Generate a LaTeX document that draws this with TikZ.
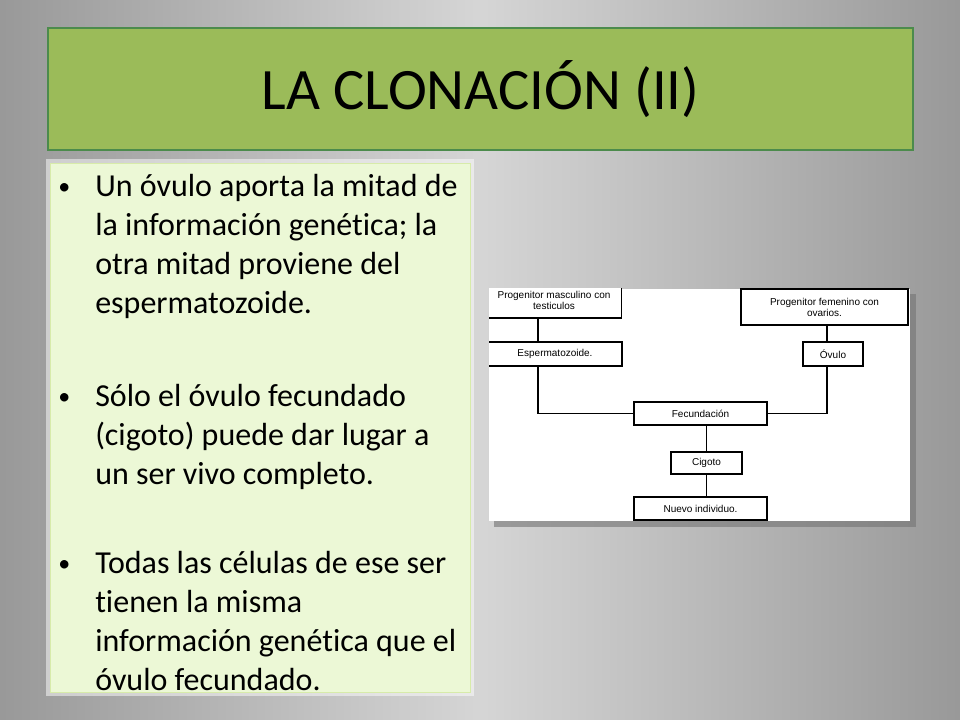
\documentclass[tikz,border=0pt]{standalone}
\usepackage{fontspec}
\setmainfont{Carlito}[Ligatures=NoCommon]
\newfontfamily\arialf{Liberation Sans}
\begin{document}
\begin{tikzpicture}[x=0.75pt,y=-0.75pt,
  bx/.style={draw=black,line width=1pt,fill=white,inner sep=0pt,font=\arialf\fontsize{7.5}{8.3}\selectfont,align=center},
  ln/.style={line width=1pt},
  bt/.style={anchor=base west,inner sep=0pt,font=\fontsize{24}{29}\selectfont}]
\useasboundingbox (0,0) rectangle (960,720);
\shade[left color=black!60,right color=black!60,middle color=black!12] (0,0) rectangle (960,720);
\fill[black!20,opacity=0.5] (0,0) rectangle (960,720);
% title
\node[draw=green!35!black!70,line width=1.2pt,fill={rgb,255:red,155;green,187;blue,89},minimum width=865*0.75pt,minimum height=122*0.75pt,inner sep=0pt,
  font=\fontsize{44}{48}\selectfont] (title) at (480.5,89) {LA CLONACIÓN (II)};
% text box
\fill[white,opacity=0.5] (46,159) rectangle (474,696);
\node[draw={rgb,255:red,215;green,235;blue,170},fill={rgb,255:red,236;green,248;blue,214},minimum width=420*0.75pt,minimum height=529*0.75pt,inner sep=0pt] (tb) at (260,428) {};
\foreach \y in {197,406,573}{\node[anchor=base west,inner sep=0pt,font=\fontsize{18}{20}\selectfont] at (58,\y-2) {•};}
\node[bt] at (95,197) {Un óvulo aporta la mitad de};
\node[bt] at (95,236) {la información genética; la};
\node[bt] at (95,275) {otra mitad proviene del};
\node[bt] at (95,314) {espermatozoide.};
\node[bt] at (95,406) {Sólo el óvulo fecundado};
\node[bt] at (95,445) {(cigoto) puede dar lugar a};
\node[bt] at (95,484) {un ser vivo completo.};
\node[bt] at (95,573) {Todas las células de ese ser};
\node[bt] at (95,612) {tienen la misma};
\node[bt] at (95,651) {información genética que el};
\node[bt] at (95,690) {óvulo fecundado.};
% image
\fill[black!55,opacity=0.6] (494,294) rectangle (916,527);
\fill[white] (489,289) rectangle (910,521);
\begin{scope}
\clip (489,289) rectangle (910,521);
\node[bx,minimum width=135*0.75pt,minimum height=36*0.75pt] (pm) at (554,300) {Progenitor masculino con\\testiculos};
\node[bx,minimum width=167*0.75pt,minimum height=36*0.75pt] (pf) at (824.5,307) {Progenitor femenino con\\ovarios.};
\node[bx,minimum width=134*0.75pt,minimum height=24*0.75pt] (es) at (555,354) {Espermatozoide.};
\node[bx,minimum width=60*0.75pt,minimum height=24*0.75pt] (ov) at (833,354) {Óvulo};
\node[bx,minimum width=133*0.75pt,minimum height=23*0.75pt] (fe) at (700.5,413.5) {Fecundación};
\node[bx,minimum width=71*0.75pt,minimum height=22*0.75pt] (ci) at (706.5,463) {Cigoto};
\node[bx,minimum width=133*0.75pt,minimum height=23*0.75pt] (nu) at (700.5,508.5) {Nuevo individuo.};
\coordinate (l1) at (538,0);
\coordinate (r1) at (827,0);
\draw[ln] (pm.south -| l1) -- (es.north -| l1);
\draw[ln] (es.south -| l1) |- (fe.west);
\draw[ln] (pf.south -| r1) -- (ov.north -| r1);
\draw[ln] (ov.south -| r1) |- (fe.east);
\draw[ln] (fe.south -| ci) -- (ci.north);
\draw[ln] (ci.south) -- (nu.north -| ci);
\end{scope}
\end{tikzpicture}
\end{document}
